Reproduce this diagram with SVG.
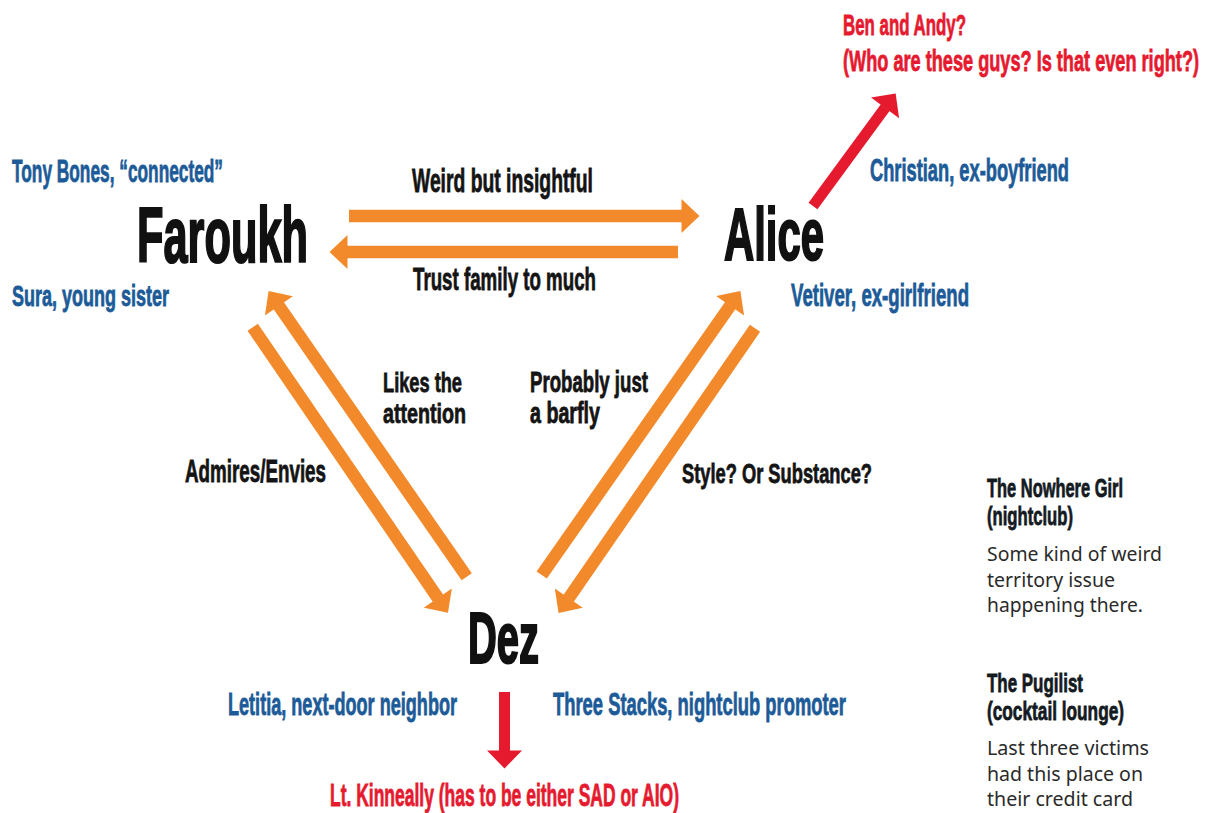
<svg xmlns="http://www.w3.org/2000/svg" width="1216" height="813" viewBox="0 0 1216 813">
<defs>
<style>
.cond{font-family:"Liberation Sans","Arial",sans-serif;font-weight:bold;}
.name{fill:#111;stroke:#111;stroke-width:2.2;}
.rel{fill:#141414;stroke:#141414;stroke-width:0.8;}
.blue{fill:#1c5b98;stroke:#1c5b98;stroke-width:0.8;}
.red{fill:#e61a2f;stroke:#e61a2f;stroke-width:0.8;}
.head{fill:#141a22;stroke:#141a22;stroke-width:0.8;}
.body{font-family:"Noto Sans","Liberation Sans",sans-serif;font-size:19px;fill:#2a2a2a;}
.oa{stroke:#f28a2c;stroke-width:12.5;fill:none;marker-end:url(#ho);}
.ra{stroke:#e61a2f;stroke-width:11;fill:none;marker-end:url(#hr);}
</style>
<marker id="ho" markerUnits="userSpaceOnUse" markerWidth="20" markerHeight="34" viewBox="0 0 18 34" refX="0.5" refY="17" orient="auto">
<path d="M0,0 L18,17 L0,34 z" fill="#f28a2c"/>
</marker>
<marker id="hr" markerUnits="userSpaceOnUse" markerWidth="20" markerHeight="35" viewBox="0 0 18 35" refX="0.5" refY="17.5" orient="auto">
<path d="M0,0 L18,17.5 L0,35 z" fill="#e61a2f"/>
</marker>
</defs>
<rect width="1216" height="813" fill="#ffffff"/>

<g id="connectors">
<line class="oa" x1="349" y1="216" x2="682" y2="216"/>
<line class="oa" x1="678" y1="252" x2="347" y2="252"/>
<line class="oa" x1="466.7" y1="576.7" x2="278.6" y2="305.5"/>
<line class="oa" x1="252.7" y1="327.3" x2="438.1" y2="598.4"/>
<line class="oa" x1="541.7" y1="575" x2="730.4" y2="305.4"/>
<line class="oa" x1="755" y1="328.3" x2="568.5" y2="598.5"/>
<line class="ra" x1="813" y1="206" x2="885.3" y2="107.5"/>
<line class="ra" x1="504.5" y1="692" x2="504.5" y2="751"/>
</g>

<g id="edge-labels" class="cond rel">
<text transform="translate(412,192) scale(0.57,1)" font-size="33" textLength="317.5" lengthAdjust="spacingAndGlyphs">Weird but insightful</text>
<text transform="translate(413,290) scale(0.57,1)" font-size="32" textLength="321.1" lengthAdjust="spacingAndGlyphs">Trust family to much</text>
<text transform="translate(383,392) scale(0.57,1)" font-size="28" textLength="138.6" lengthAdjust="spacingAndGlyphs">Likes the</text>
<text transform="translate(383,423) scale(0.57,1)" font-size="28" textLength="145.6" lengthAdjust="spacingAndGlyphs">attention</text>
<text transform="translate(530,392) scale(0.57,1)" font-size="29" textLength="207" lengthAdjust="spacingAndGlyphs">Probably just</text>
<text transform="translate(530,423) scale(0.57,1)" font-size="29" textLength="122.8" lengthAdjust="spacingAndGlyphs">a barfly</text>
<text transform="translate(185,482) scale(0.57,1)" font-size="31" textLength="247.4" lengthAdjust="spacingAndGlyphs">Admires/Envies</text>
<text transform="translate(682,483) scale(0.57,1)" font-size="28" textLength="333.3" lengthAdjust="spacingAndGlyphs">Style? Or Substance?</text>
</g>

<g id="node-faroukh" class="cond">
<text class="name" transform="translate(137,262) scale(0.55,1)" font-size="78" textLength="310.9" lengthAdjust="spacingAndGlyphs">Faroukh</text>
<text class="blue" transform="translate(12,182) scale(0.57,1)" font-size="31" textLength="370.2" lengthAdjust="spacingAndGlyphs">Tony Bones, “connected”</text>
<text class="blue" transform="translate(12,306) scale(0.57,1)" font-size="29" textLength="275.4" lengthAdjust="spacingAndGlyphs">Sura, young sister</text>
</g>

<g id="node-alice" class="cond">
<text class="name" transform="translate(724,260) scale(0.55,1)" font-size="75" textLength="181.8" lengthAdjust="spacingAndGlyphs">Alice</text>
<text class="blue" transform="translate(870,181) scale(0.57,1)" font-size="31" textLength="349.1" lengthAdjust="spacingAndGlyphs">Christian, ex-boyfriend</text>
<text class="blue" transform="translate(791,306) scale(0.57,1)" font-size="31" textLength="312.3" lengthAdjust="spacingAndGlyphs">Vetiver, ex-girlfriend</text>
</g>

<g id="node-dez" class="cond">
<text class="name" transform="translate(468,663) scale(0.55,1)" font-size="72" textLength="129.1" lengthAdjust="spacingAndGlyphs">Dez</text>
<text class="blue" transform="translate(228,715) scale(0.57,1)" font-size="31" textLength="401.8" lengthAdjust="spacingAndGlyphs">Letitia, next-door neighbor</text>
<text class="blue" transform="translate(553,715) scale(0.57,1)" font-size="31" textLength="514" lengthAdjust="spacingAndGlyphs">Three Stacks, nightclub promoter</text>
</g>

<g id="node-ben-andy" class="cond red">
<text transform="translate(843,35) scale(0.57,1)" font-size="30" textLength="215.8" lengthAdjust="spacingAndGlyphs">Ben and Andy?</text>
<text transform="translate(843,71) scale(0.57,1)" font-size="30" textLength="624.6" lengthAdjust="spacingAndGlyphs">(Who are these guys? Is that even right?)</text>
</g>

<g id="node-kinneally" class="cond red">
<text transform="translate(330,806) scale(0.57,1)" font-size="31" textLength="612.3" lengthAdjust="spacingAndGlyphs">Lt. Kinneally (has to be either SAD or AIO)</text>
</g>

<g id="node-nowhere-girl">
<text class="cond head" transform="translate(987,497) scale(0.57,1)" font-size="26" textLength="238.6" lengthAdjust="spacingAndGlyphs">The Nowhere Girl</text>
<text class="cond head" transform="translate(987,525) scale(0.57,1)" font-size="26" textLength="150.9" lengthAdjust="spacingAndGlyphs">(nightclub)</text>
<text class="body" x="987" y="561" textLength="175" lengthAdjust="spacingAndGlyphs">Some kind of weird</text>
<text class="body" x="987" y="587" textLength="128" lengthAdjust="spacingAndGlyphs">territory issue</text>
<text class="body" x="987" y="612" textLength="156" lengthAdjust="spacingAndGlyphs">happening there.</text>
</g>

<g id="node-pugilist">
<text class="cond head" transform="translate(987,692) scale(0.57,1)" font-size="26" textLength="168.4" lengthAdjust="spacingAndGlyphs">The Pugilist</text>
<text class="cond head" transform="translate(987,720) scale(0.57,1)" font-size="26" textLength="240.4" lengthAdjust="spacingAndGlyphs">(cocktail lounge)</text>
<text class="body" x="987" y="755" textLength="162" lengthAdjust="spacingAndGlyphs">Last three victims</text>
<text class="body" x="987" y="781" textLength="156" lengthAdjust="spacingAndGlyphs">had this place on</text>
<text class="body" x="987" y="806" textLength="146" lengthAdjust="spacingAndGlyphs">their credit card</text>
</g>
</svg>
